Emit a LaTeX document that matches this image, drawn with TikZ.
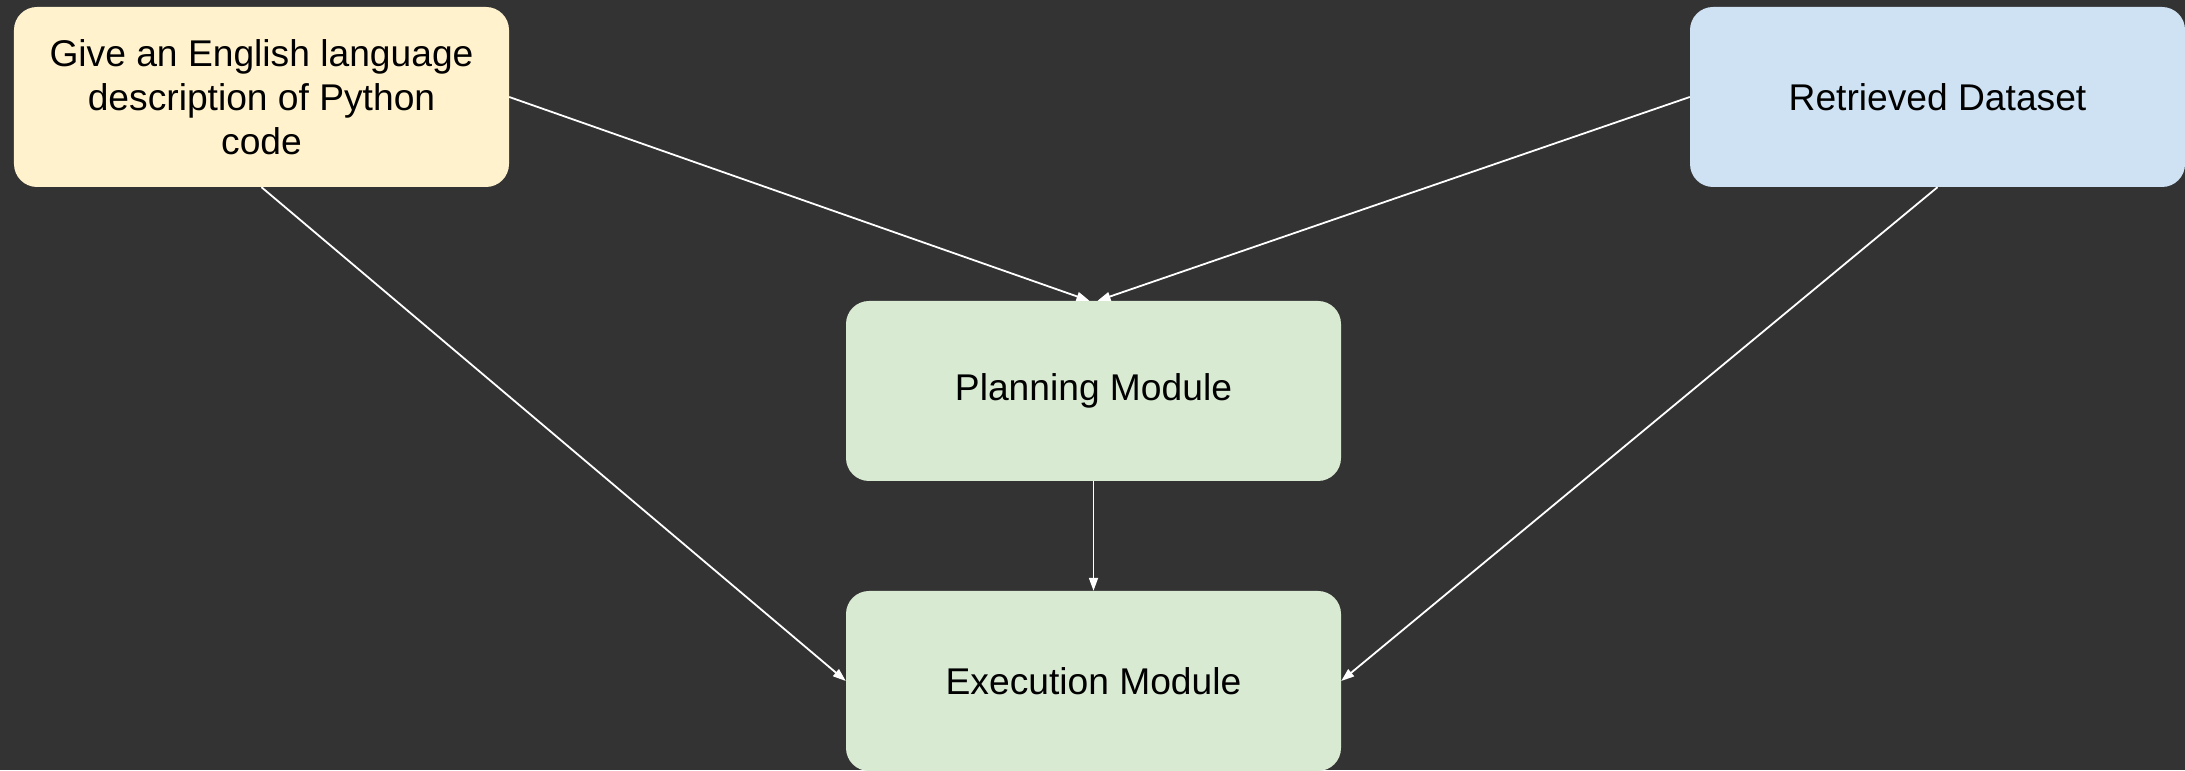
\documentclass[tikz,border=0pt]{standalone}
\usepackage{fontspec}
\setmainfont{Liberation Sans}
\usepackage{xcolor}
\usetikzlibrary{arrows.meta}

\definecolor{BoardGray}{HTML}{333333}
\definecolor{NoteYellow}{HTML}{FFF2CC}
\definecolor{NoteBlue}{HTML}{CFE2F3}
\definecolor{NoteGreen}{HTML}{D9EAD3}

\begin{document}
\begin{tikzpicture}[x=1bp,y=1bp,
    card/.style={rounded corners=23bp, minimum width=495bp, minimum height=180bp,
        inner sep=0pt, align=center, font=\fontsize{37.2bp}{44bp}\selectfont},
    link/.style={draw=white, line width=1.8bp, -{Triangle[length=13bp,width=9bp]}}]

    \fill[BoardGray] (0,0) rectangle (2185,770);
    \useasboundingbox (0,0) rectangle (2185,770);

    \node[card, fill=NoteYellow] (desc) at (261.5,673)
        {Give an English language\\description of Python\\code};
    \node[card, fill=NoteBlue] (data) at (1937.5,673) {Retrieved Dataset};
    \node[card, fill=NoteGreen] (plan) at (1093.5,379) {Planning Module};
    \node[card, fill=NoteGreen] (exec) at (1093.5,89) {Execution Module};

    \coordinate (planL) at ([xshift=-4bp]plan.north);
    \coordinate (planR) at ([xshift=4bp]plan.north);

    \draw[link] (desc.east) -- (planL);
    \draw[link] (data.west) -- (planR);
    \draw[link] (desc.south) -- (exec.west);
    \draw[link] (data.south) -- (exec.east);
    \draw[link] (plan.south) -- (exec.north);
\end{tikzpicture}
\end{document}
